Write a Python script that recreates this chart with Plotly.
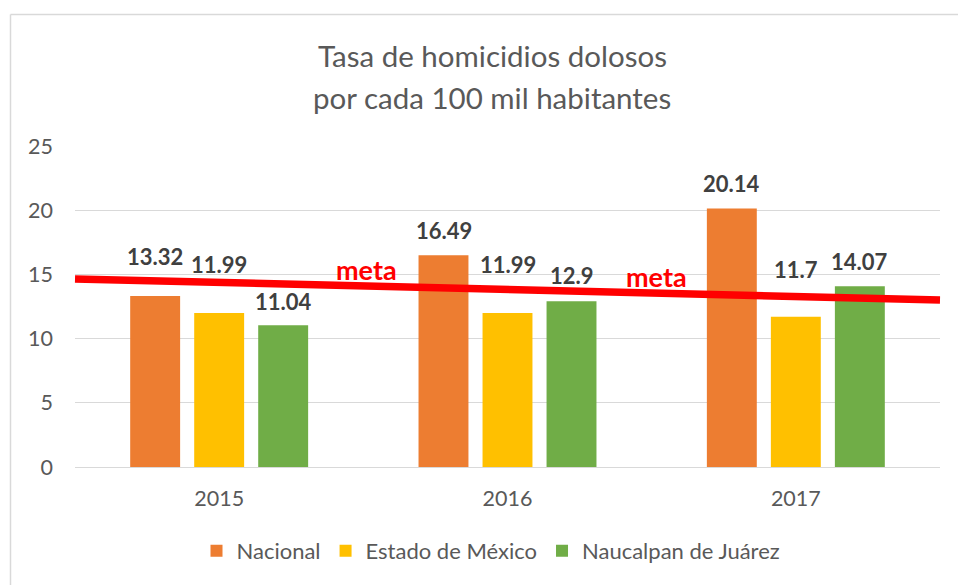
import plotly.graph_objects as go

years = ["2015", "2016", "2017"]
nacional = [13.32, 16.49, 20.14]
estado_mexico = [11.99, 11.99, 11.7]
naucalpan = [11.04, 12.9, 14.07]
series_names = ["Nacional", "Estado de México", "Naucalpan de Juárez"]
series_colors = ["#ED7D31", "#FFC000", "#70AD47"]
meta_start, meta_end = 14.65, 13.0
title_lines = ["Tasa de homicidios dolosos", "por cada 100 mil habitantes"]
y_ticks = [0, 5, 10, 15, 20, 25]

# label vertical offsets (px, center above bar top), per series per year
label_offsets = [[39, 25, 25], [49, 49, 47], [24, 26, 25]]
bar_shift = [-64, 0, 64]

W, H = 958, 585
L, R, T, B = 75, 18, 146, 118
pw, ph = W - L - R, H - T - B

def px_x(x):
    return (x - L) / pw

def px_y(y):
    return (H - B - y) / ph

fig = go.Figure()
all_series = [nacional, estado_mexico, naucalpan]
for name, vals, col in zip(series_names, all_series, series_colors):
    fig.add_trace(go.Bar(x=years, y=vals, name=name, marker=dict(color=col, line=dict(width=0))))

annotations = []
for si, vals in enumerate(all_series):
    for yi, v in enumerate(vals):
        annotations.append(dict(
            x=yi, y=v, xref="x", yref="y", text=f"<b>{v:g}</b>",
            showarrow=False, xshift=bar_shift[si], yshift=label_offsets[si][yi],
            yanchor="middle", xanchor="center",
            font=dict(family="Lato", size=22, color="#404040")))

# meta labels above the red line
for fx, xs, ys in [(1/3, 3, 16), (2/3, 5, 17)]:
    yv = meta_start + (meta_end - meta_start) * fx
    annotations.append(dict(
        x=fx, y=yv, xref="paper", yref="y", text="<b>meta</b>", showarrow=False,
        xshift=xs, yshift=ys, yanchor="middle", xanchor="center",
        font=dict(family="Lato", size=27, color="#FF0000")))

for line, ypx in zip(title_lines, [55, 97]):
    annotations.append(dict(
        x=px_x(492), y=px_y(ypx), xref="paper", yref="paper", text=line,
        showarrow=False, xanchor="center", yanchor="middle",
        font=dict(family="Lato", size=29.5, color="#595959")))

shapes = [
    dict(type="line", xref="paper", yref="paper",
         x0=px_x(10.5), x1=px_x(1000), y0=px_y(14.5), y1=px_y(14.5),
         line=dict(color="#D9D9D9", width=1.5), layer="below"),
    dict(type="line", xref="paper", yref="paper",
         x0=px_x(10.5), x1=px_x(10.5), y0=px_y(14.5), y1=px_y(620),
         line=dict(color="#D9D9D9", width=1.5), layer="below"),
    dict(type="line", xref="paper", yref="y", x0=0, x1=1, y0=meta_start, y1=meta_end,
         line=dict(color="#FF0000", width=7.5), layer="above"),
]

fig.update_layout(
    width=W, height=H,
    margin=dict(l=L, r=R, t=T, b=B, pad=0),
    paper_bgcolor="white", plot_bgcolor="white",
    barmode="group", bargap=0.334, bargroupgap=0.22,
    showlegend=True,
    legend=dict(orientation="h", x=px_x(491), xanchor="center", y=px_y(551), yanchor="middle",
                font=dict(family="Lato", size=22, color="#595959"), traceorder="normal"),
    annotations=annotations, shapes=shapes,
    xaxis=dict(type="category", range=[-0.5, 2.5], showgrid=False, showline=True,
               linecolor="#D9D9D9", linewidth=1,
               ticks="", tickfont=dict(family="Lato", size=21.5, color="#595959"),
               ticklabelstandoff=12),
    yaxis=dict(range=[0, 25], tickvals=y_ticks, showgrid=True, gridcolor="#D9D9D9", gridwidth=1,
               zeroline=False, showline=False, ticks="",
               tickfont=dict(family="Lato", size=21.5, color="#595959"), ticklabelstandoff=21),
)

fig.write_html("out.html", config={"displayModeBar": False},
               post_script="document.body.style.margin='0px';document.body.style.overflow='hidden';document.documentElement.style.overflow='hidden';")
